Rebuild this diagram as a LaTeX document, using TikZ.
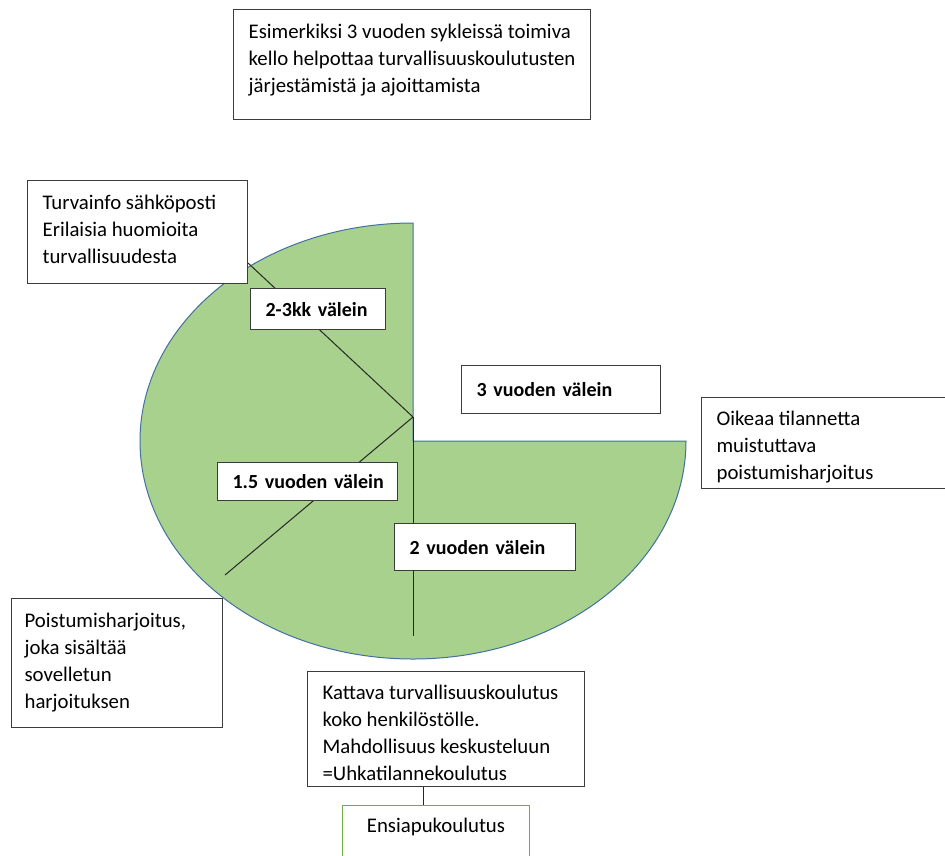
\documentclass[tikz,border=0pt]{standalone}
\usepackage{fontspec}
\setmainfont{Carlito}
\usepackage{tikz}
\usetikzlibrary{calc}
\definecolor{piefill}{RGB}{169,209,142}
\definecolor{pieedge}{RGB}{65,113,156}
\definecolor{firstaid}{RGB}{112,173,71}
\definecolor{boxline}{RGB}{60,60,60}
\newcommand{\notebody}[4][\raggedright]{\parbox[c][#3pt][t]{#2pt}{#1\begin{tabular}[t]{@{}l@{}}#4\end{tabular}}}

\begin{document}
\begin{tikzpicture}[x=1pt, y=-1pt,
  notebox/.style={draw=boxline, line width=1.2pt, fill=white, anchor=north west,
    inner xsep=15pt, inner ysep=10pt, font=\fontsize{20.8}{27}\selectfont},
  tagbox/.style={draw=boxline, line width=1.2pt, fill=white, anchor=north west,
    inner xsep=15pt, inner ysep=0pt, align=left, font=\fontsize{20}{27}\selectfont\bfseries},
  spoke/.style={black!85, line width=1pt}]
  \useasboundingbox (0,0) rectangle (945,855);
  \clip (0,0) rectangle (945,855);

  % Pie with the upper right quarter cut away
  \fill[piefill] (413,441) -- (413,223)
    arc[start angle=-90, end angle=-360, x radius=273, y radius=218] -- cycle;
  \draw[pieedge, line width=1pt] (413,441) -- (413,223)
    arc[start angle=-90, end angle=-360, x radius=273, y radius=218] -- cycle;

  % Spokes from the hub
  \coordinate (hub) at (413,417);
  \coordinate (spokeNW) at (248,263);
  \coordinate (spokeSW) at (225,575);
  \coordinate (spokeS) at (413,636);
  \draw[spoke] (hub) -- (spokeNW);
  \draw[spoke] (hub) -- (spokeSW);
  \draw[spoke] (hub) -- (spokeS);

  % Notes
  \node[notebox] (cycle) at (233,9) {\notebody{327}{90}{Esimerkiksi 3 vuoden sykleissä toimiva\\
    kello helpottaa turvallisuuskoulutusten\\ järjestämistä ja ajoittamista}};
  \node[notebox] (info) at (27,180) {\notebody{190}{83}{Turvainfo sähköposti\\
    Erilaisia huomioita\\ turvallisuudesta}};
  \node[notebox, inner xsep=13pt] (drill) at (11,598) {\notebody{185}{109}{Poistumisharjoitus,\\
    joka sisältää\\ sovelletun\\ harjoituksen}};
  \node[notebox, inner ysep=9pt] (realdrill) at (701,397) {\notebody{230}{73}{Oikeaa tilannetta\\
    muistuttava\\ poistumisharjoitus}};
  \node[notebox, inner ysep=9pt] (course) at (307,671) {\notebody{247}{97}{Kattava turvallisuuskoulutus\\
    koko henkilöstölle.\\ Mahdollisuus keskusteluun\\ =Uhkatilannekoulutus}};
  \node[notebox, draw=firstaid, line width=1pt, inner ysep=8pt] (firstaid) at (342,805)
    {\notebody[\centering]{157}{64}{Ensiapukoulutus}};

  % Interval tags
  \node[tagbox, minimum width=135, minimum height=41, text width=105] (tagA) at (250,288) {\mbox{2-3kk välein}};
  \node[tagbox, minimum width=199, minimum height=48, text width=169] (tagB) at (461,365) {\mbox{3 vuoden välein}};
  \node[tagbox, minimum width=180, minimum height=38, text width=150] (tagC) at (217,462) {\mbox{1.5 vuoden välein}};
  \node[tagbox, minimum width=181, minimum height=47, text width=151] (tagD) at (394,523) {\mbox{2 vuoden välein}};

  % Link between the two courses
  \coordinate (link) at (423,795);
  \draw[spoke] (link |- course.south) -- (link |- firstaid.north);
\end{tikzpicture}
\end{document}
